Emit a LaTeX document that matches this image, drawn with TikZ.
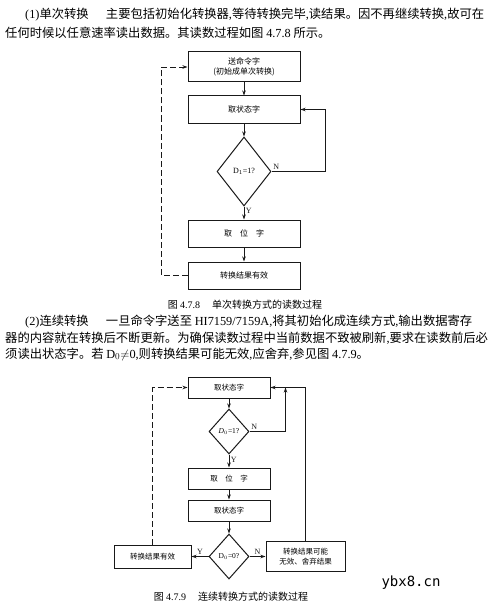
\documentclass[tikz,border=0pt]{standalone}
\usepackage{fontspec}
\setmainfont{Noto Sans CJK SC}
\newfontfamily\latfont{Liberation Serif}
\newfontfamily\wmfont{DejaVu Sans Mono}
\newcommand{\ltn}[1]{{\latfont #1}}
\usepackage{tikz}
\usetikzlibrary{shapes.geometric, arrows.meta, positioning}
\definecolor{myink}{RGB}{25,25,25}
\tikzset{
  box/.style={rectangle, draw=myink, line width=1pt,
    minimum width=112pt, minimum height=27pt, inner sep=0pt,
    align=center, font=\fontsize{8}{10}\selectfont},
  smallbox/.style={rectangle, draw=myink, line width=1pt,
    minimum width=82pt, minimum height=21pt, inner sep=0pt,
    align=center, font=\fontsize{7.5}{9.5}\selectfont},
  decision/.style={diamond, draw=myink, line width=1pt, inner sep=0pt,
    minimum width=54pt, minimum height=69pt, font=\fontsize{8}{10}\latfont},
  smalldecision/.style={diamond, draw=myink, line width=1pt, inner sep=0pt,
    minimum width=40pt, minimum height=45pt, font=\fontsize{7.5}{9}\latfont},
  arrow/.style={-{Stealth[length=5pt, width=3.5pt]}, line width=0.9pt, color=myink},
  dasharrow/.style={-{Stealth[length=5pt, width=3.5pt]}, line width=0.9pt,
    color=myink, dash pattern=on 6pt off 3pt},
  yn/.style={font=\fontsize{8}{9}\latfont, inner sep=1.5pt},
  para/.style={anchor=west, inner sep=0pt, font=\fontsize{12.3}{14}\selectfont},
  caption/.style={inner sep=0pt, font=\fontsize{10}{12}\selectfont}
}

\begin{document}
\begin{tikzpicture}[x=1pt, y=-1pt]
  \useasboundingbox[fill=white] (0,0) rectangle (495,607);

  % --- text above ---
  \node[para] (P1a) at (25,15) {\ltn{(1)}单次转换\hspace{1.4em}主要包括初始化转换器\ltn{,}等待转换完毕\ltn{,}读结果。因不再继续转换\ltn{,}故可在};
  \node[para] (P1b) at (5,33) {任何时候以任意速率读出数据。其读数过程如图 \ltn{4.7.8} 所示。};

  % --- Figure 4.7.8 ---
  \node[box, minimum height=30pt] (C1) at (244,67) {送命令字\\(初始成单次转换)};
  \node[box, below=13pt of C1] (S1) {取状态字};
  \node[decision, below=13pt of S1] (D1) {D$_1$=1?};
  \node[box, below=13pt of D1] (W1) {取\quad 位\quad 字};
  \node[box, below=14pt of W1] (R1) {转换结果有效};
  \draw[arrow] (C1) -- (S1);
  \draw[arrow] (S1) -- (D1);
  \draw[arrow] (D1) -- node[yn, right, pos=0.35] {Y} (W1);
  \draw[arrow] (W1) -- (R1);
  \draw[arrow] (D1.east) node[yn, above right] {N} -- ++(54,0) |- (S1.east);
  \draw[dasharrow] (R1.west) -- ++(-26,0) |- (C1.west);
  \node[caption] (cap1) at (245,305) {图 \ltn{4.7.8}\hspace{1.2em}单次转换方式的读数过程};

  % --- text between ---
  \node[para] (P2a) at (25,322) {\ltn{(2)}连续转换\hspace{1.4em}一旦命令字送至 \ltn{HI7159/7159A,}将其初始化成连续方式\ltn{,}输出数据寄存};
  \node[para] (P2b) at (5,338) {器的内容就在转换后不断更新。为确保读数过程中当前数据不致被刷新\ltn{,}要求在读数前后必};
  \node[para] (P2c) at (5,354) {须读出状态字。若 \ltn{D$_0$$\neq$0,}则转换结果可能无效\ltn{,}应舍弃\ltn{,}参见图 \ltn{4.7.9}。};

  % --- Figure 4.7.9 ---
  \node[smallbox] (S2) at (229,387.5) {取状态字};
  \node[smalldecision, below=10pt of S2] (D2) {\textit{D}$_0$=1?};
  \node[smallbox, below=13pt of D2] (W2) {取\quad 位\quad 字};
  \node[smallbox, below=10pt of W2] (T2) {取状态字};
  \node[smalldecision, below=12pt of T2] (D3) {D$_0$=0?};
  \node[smallbox, left=17pt of D3, minimum width=77pt, minimum height=23pt] (R2) {转换结果有效};
  \node[smallbox, right=16pt of D3, minimum width=79pt, minimum height=30pt] (X2) {转换结果可能\\无效、舍弃结果};
  \coordinate[right=15pt of S2.east] (J);
  \draw[arrow] (S2) -- (D2);
  \draw[arrow] (D2) -- node[yn, right, pos=0.4] {Y} (W2);
  \draw[arrow] (W2) -- (T2);
  \draw[arrow] (T2) -- (D3);
  \draw[arrow] (D3) -- node[yn, above] {Y} (R2);
  \draw[arrow] (D3) -- node[yn, above] {N} (X2);
  \draw[arrow] (D2.east) node[yn, above right] {N} -| (J);
  \draw[arrow] (X2.north) |- (S2.east);
  \draw[dasharrow] (R2.north) |- (S2.west);
  \node[font=\fontsize{14}{16}\wmfont] (WM) at (411,583) {ybx8.cn};
  \node[caption] (cap2) at (231,597) {图 \ltn{4.7.9}\hspace{1.2em}连续转换方式的读数过程};
\end{tikzpicture}
\end{document}
